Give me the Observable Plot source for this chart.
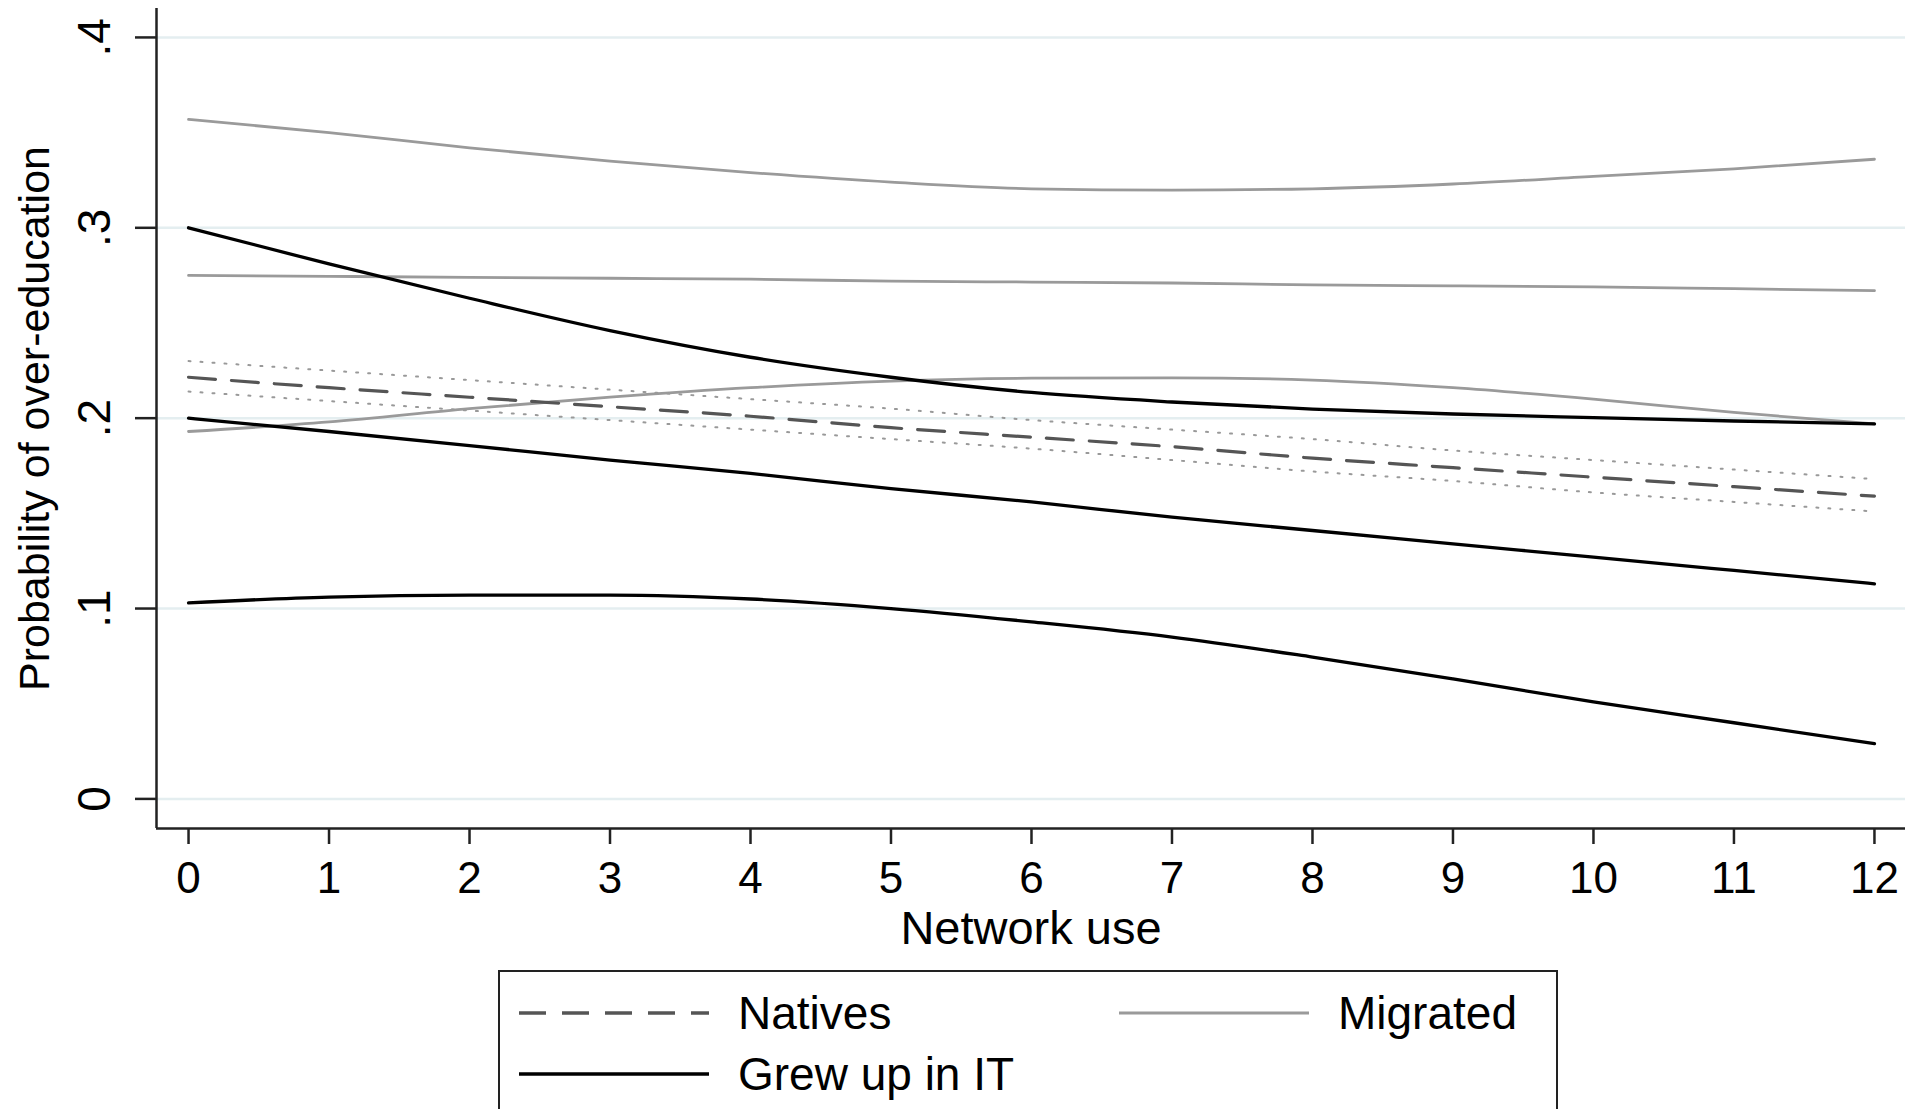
<!DOCTYPE html>
<html>
<head>
<meta charset="utf-8">
<script src="https://cdn.jsdelivr.net/npm/d3@7"></script>
<script src="https://cdn.jsdelivr.net/npm/@observablehq/plot@0.6"></script>
<style>
  html, body { margin: 0; padding: 0; background: #fff; overflow: hidden; }
  body { width: 1917px; height: 1109px; position: relative; font-family: "Liberation Sans", Arial, sans-serif; }
  #chart { position: absolute; left: 0; top: 0; }
  #legend { position: absolute; left: 498px; top: 970px; width: 1060px; height: 200px; border: 2.5px solid #222; box-sizing: border-box; }
  .item { position: absolute; display: flex; align-items: center; font-size: 46px; color: #000; }
  .item svg { display: block; }
</style>
</head>
<body>
<div id="chart"></div>
<div id="legend"></div>
<script>
// ---- data ----
const networkUse = [0, 1, 2, 3, 4, 5, 6, 7, 8, 9, 10, 11, 12];
const xTicks = [0, 1, 2, 3, 4, 5, 6, 7, 8, 9, 10, 11, 12];
const yTicks = [0, 0.1, 0.2, 0.3, 0.4];
const yTickLabels = ["0", ".1", ".2", ".3", ".4"];

const nativesMid = [0.2215, 0.216, 0.211, 0.206, 0.201, 0.195, 0.190, 0.185, 0.179, 0.174, 0.169, 0.164, 0.159];
const nativesHi  = [0.230, 0.225, 0.220, 0.215, 0.210, 0.205, 0.199, 0.194, 0.189, 0.183, 0.178, 0.173, 0.168];
const nativesLo  = [0.214, 0.209, 0.204, 0.199, 0.194, 0.189, 0.184, 0.178, 0.172, 0.167, 0.161, 0.156, 0.151];

const migratedMid = [0.275, 0.2745, 0.274, 0.2735, 0.273, 0.272, 0.2715, 0.271, 0.270, 0.2695, 0.269, 0.268, 0.267];
const migratedHi  = [0.357, 0.350, 0.342, 0.335, 0.329, 0.324, 0.3205, 0.3198, 0.3205, 0.323, 0.327, 0.331, 0.336];
const migratedLo  = [0.193, 0.198, 0.205, 0.211, 0.216, 0.2195, 0.221, 0.2212, 0.220, 0.216, 0.210, 0.203, 0.197];

const grewMid = [0.200, 0.193, 0.1856, 0.178, 0.171, 0.163, 0.156, 0.148, 0.141, 0.134, 0.127, 0.120, 0.113];
const grewHi  = [0.300, 0.281, 0.263, 0.246, 0.232, 0.2215, 0.2135, 0.2085, 0.2048, 0.2022, 0.2003, 0.1985, 0.197];
const grewLo  = [0.103, 0.106, 0.107, 0.107, 0.105, 0.100, 0.093, 0.085, 0.0745, 0.063, 0.051, 0.040, 0.029];

const xTitle = "Network use";
const yTitle = "Probability of over-education";
const seriesNames = ["Natives", "Migrated", "Grew up in IT"];

// ---- build ----
const toRows = (vals) => networkUse.map((x, i) => ({x, y: vals[i]}));
const xDom = [-0.228, 12.221];
const yDom = [-0.01555, 0.4152];
const font = "Liberation Sans, Arial, sans-serif";

const lineOpts = (stroke, w, dash) => ({x: "x", y: "y", stroke, strokeWidth: w, strokeDasharray: dash, curve: "monotone-x"});

const chart = Plot.plot({
  width: 1917,
  height: 968,
  marginLeft: 156,
  marginRight: 12,
  marginTop: 8,
  marginBottom: 140,
  style: {fontFamily: font, background: "white", color: "#000"},
  x: {domain: xDom, axis: null},
  y: {domain: yDom, axis: null},
  marks: [
    Plot.ruleY(yTicks, {stroke: "#e4eef0", strokeWidth: 2.5}),
    // Migrated (gray)
    Plot.line(toRows(migratedHi), lineOpts("#9a9a9a", 2.8)),
    Plot.line(toRows(migratedLo), lineOpts("#9a9a9a", 2.8)),
    Plot.line(toRows(migratedMid), lineOpts("#9a9a9a", 2.8)),
    // Natives (dashed + dotted CI)
    Plot.line(toRows(nativesHi), lineOpts("#999999", 2, "2,10")),
    Plot.line(toRows(nativesLo), lineOpts("#999999", 2, "2,10")),
    Plot.line(toRows(nativesMid), lineOpts("#555555", 3.2, "27,16")),
    // Grew up in IT (black)
    Plot.line(toRows(grewHi), lineOpts("#000", 3.3)),
    Plot.line(toRows(grewLo), lineOpts("#000", 3.3)),
    Plot.line(toRows(grewMid), lineOpts("#000", 3.3)),
    // axis lines
    Plot.ruleX([xDom[0]], {stroke: "#222", strokeWidth: 2.5}),
    Plot.ruleY([yDom[0]], {stroke: "#222", strokeWidth: 2.5}),
    // tick marks
    Plot.axisX({ticks: xTicks, tickSize: 16, tickFormat: () => "", stroke: "#222", strokeWidth: 2.5, strokeOpacity: 1, label: null}),
    Plot.axisY({ticks: yTicks, tickSize: 21, tickFormat: () => "", stroke: "#222", strokeWidth: 2.5, strokeOpacity: 1, label: null}),
    // tick labels and titles
    Plot.text(xTicks, {x: d => d, y: () => yDom[0], text: d => String(d), dy: 33, lineAnchor: "top", fontSize: 44, fill: "#000"}),
    Plot.text([xTitle], {x: () => (xDom[0] + xDom[1]) / 2, y: () => yDom[0], text: d => d, dy: 82, lineAnchor: "top", fontSize: 47, fill: "#000"}),
    Plot.text(yTicks, {x: () => xDom[0], y: d => d, text: (d, i) => yTickLabels[i], rotate: -90, dx: -47, lineAnchor: "bottom", textAnchor: "middle", fontSize: 46, fill: "#000"}),
    Plot.text([yTitle], {x: () => xDom[0], y: () => (yDom[0] + yDom[1]) / 2, text: d => d, rotate: -90, dx: -108, lineAnchor: "bottom", textAnchor: "middle", fontSize: 43, fill: "#000"})
  ]
});

document.getElementById("chart").appendChild(chart);

// legend
const legend = document.getElementById("legend");
function item(left, top, name, stroke, width, dash) {
  const div = document.createElement("div");
  div.className = "item";
  div.style.left = left + "px";
  div.style.top = top + "px";
  div.innerHTML = `<svg width="${190}" height="10"><line x1="0" x2="190" y1="5" y2="5" stroke="${stroke}" stroke-width="${width}" ${dash ? `stroke-dasharray="${dash}"` : ""}/></svg><span style="margin-left:29px">${name}</span>`;
  legend.appendChild(div);
}
item(19, 14, seriesNames[0], "#555555", 3.3, "27,16");
item(619, 14, seriesNames[1], "#9a9a9a", 3);
item(19, 75, seriesNames[2], "#000", 3.5);
</script>
</body>
</html>
